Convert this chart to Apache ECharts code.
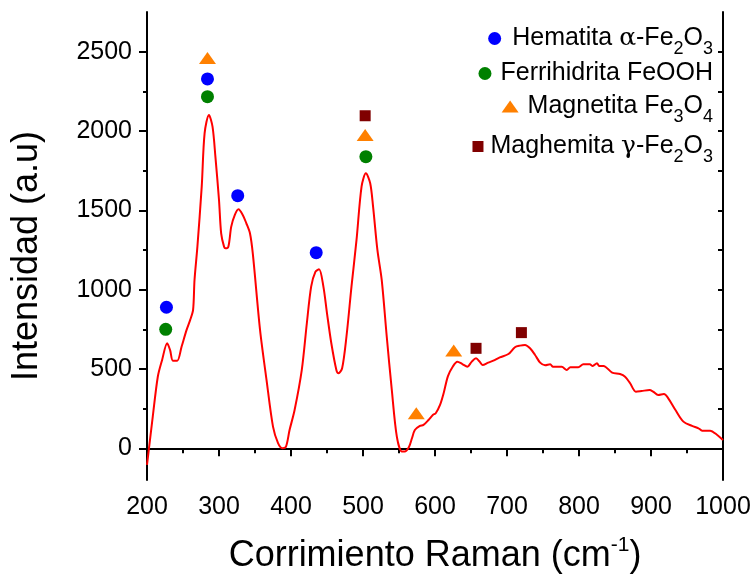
<!DOCTYPE html>
<html><head><meta charset="utf-8">
<script src="https://cdn.jsdelivr.net/npm/echarts@6/dist/echarts.min.js"></script>
<style>html,body{margin:0;padding:0;background:#fff}#c{width:753px;height:579px}</style>
</head><body><div id="c"></div>
<script>
// Raman spectrum
const ramanShift = [200,208,215,221,228,232,236,242,248,255,260,264,266,270,276,280,286,291,295,300,303,307,309,313,317,322,327,333,338,343,347,357,366,375,382,388,393,398,405,415,422,428,434,439,445,450,456,463,466,471,477,484,491,498,504,510,514,520,526,533,540,547,554,558,564,568,572,579,584,591,597,601,607,612,618,625,631,638,645,651,657,662,666,674,681,690,702,711,718,725,732,739,746,753,760,764,776,783,788,799,806,815,819,825,828,834,846,857,864,871,879,887,898,903,910,918,924,934,945,957,966,971,982,992,1000];
const intensity = [-105,199,451,557,662,620,552,552,640,746,809,872,1061,1271,1649,1985,2101,2027,1838,1565,1355,1271,1261,1271,1397,1471,1506,1471,1418,1355,1225,746,431,136,32,0,10,115,241,494,788,1019,1113,1128,1019,851,662,494,473,504,703,1019,1313,1649,1733,1670,1523,1250,1061,703,368,73,-21,-21,10,63,115,141,147,178,210,221,273,347,455,517,546,531,514,546,567,546,525,540,552,573,594,637,647,651,630,588,540,523,529,514,514,494,511,511,529,529,519,536,519,519,477,468,451,410,357,361,367,357,336,342,315,241,168,141,126,111,111,84,52];

// Peak markers
const hematitaX = [227, 284, 326, 435];
const hematitaY = [889, 2328, 1592, 1233];
const ferrihidritaX = [226, 284, 504];
const ferrihidritaY = [750, 2216, 1838];
const magnetitaX = [284, 503, 574, 626];
const magnetitaY = [2460, 1975, 221, 617];
const maghemitaX = [503, 657, 720];
const maghemitaY = [2096, 630, 729];

// Tick labels
const xTicks = [200, 300, 400, 500, 600, 700, 800, 900, 1000];
const yTicks = [0, 500, 1000, 1500, 2000, 2500];
const yFrameTicks = [0, 250, 500, 750, 1000, 1250, 1500, 1750, 2000, 2250, 2500];

const FONT = "'Liberation Sans', Arial, sans-serif";
const zip = (a, b) => a.map((v, i) => [v, b[i]]);

const legendText = {
  'Hematita': 'Hematita {g|α}-Fe{sub|2}O{sub|3}',
  'Ferrihidrita': 'Ferrihidrita FeOOH',
  'Magnetita': 'Magnetita Fe{sub|3}O{sub|4}',
  'Maghemita': 'Maghemita {g|γ}-Fe{sub|2}O{sub|3}'
};
const legendRich = {
  sub: {fontSize: 18, fontFamily: FONT, color: '#000', padding: [22, 0, 0, 0], verticalAlign: 'middle'},
  g: {fontSize: 25, fontFamily: "'DejaVu Serif', serif", color: '#000', verticalAlign: 'middle'}
};
function mkLegend(name, top, w, h, pad) {
  return {
    data: [name], right: 40, top: top, orient: 'horizontal',
    itemWidth: w, itemHeight: h, padding: 0,
    selectedMode: false,
    formatter: n => legendText[n],
    textStyle: {fontSize: 25, fontFamily: FONT, color: '#000', rich: legendRich, padding: [0, 0, 0, pad]}
  };
}

const black = {color: '#000', width: 2};
const plain = v => String(v);
const chart = echarts.init(document.getElementById('c'), null, {renderer: 'canvas'});
chart.setOption({
  animation: false,
  backgroundColor: '#fff',
  grid: {left: 147, right: 30, top: 12, bottom: 99, containLabel: false, outerBoundsMode: 'none'},
  legend: [
    mkLegend('Hematita', 26, 13, 13, 6),
    mkLegend('Ferrihidrita', 61, 13, 13, 4),
    mkLegend('Magnetita', 94, 17, 12, 4),
    mkLegend('Maghemita', 134, 11, 11, 2)
  ],
  xAxis: [{
    type: 'value', min: 200, max: 1000, interval: 100, position: 'bottom',
    axisLine: {lineStyle: black},
    axisTick: {length: 8, lineStyle: black},
    minorTick: {show: true, splitNumber: 2, length: 4, lineStyle: black},
    axisLabel: {fontSize: 25, fontFamily: FONT, color: '#000', margin: 15, customValues: xTicks, formatter: plain},
    splitLine: {show: false},
    name: 'Corrimiento Raman (cm{sup|-1})', nameLocation: 'middle', nameGap: 55,
    nameTextStyle: {fontSize: 36, fontFamily: FONT, color: '#000',
      rich: {sup: {fontSize: 21, fontFamily: FONT, color: '#000', padding: [0, 0, 22, 0], verticalAlign: 'middle'}}}
  }, {
    type: 'value', min: 200, max: 1000, interval: 50, position: 'top',
    axisLine: {lineStyle: black},
    axisTick: {inside: true, length: 5, lineStyle: black},
    axisLabel: {show: false}, splitLine: {show: false}
  }],
  yAxis: [{
    type: 'value', min: -200, max: 2750, position: 'left',
    axisLine: {lineStyle: black},
    axisTick: {length: 8, lineStyle: black, customValues: yTicks},
    minorTick: {show: true, splitNumber: 2, length: 4, lineStyle: black},
    axisLabel: {fontSize: 25, fontFamily: FONT, color: '#000', margin: 15, customValues: yTicks, formatter: plain},
    splitLine: {show: false},
    name: 'Intensidad (a.u)', nameLocation: 'middle', nameGap: 102,
    nameTextStyle: {fontSize: 36, fontFamily: FONT, color: '#000', padding: [0, 20, 0, 0]}
  }, {
    type: 'value', min: -200, max: 2750, position: 'right',
    axisLine: {lineStyle: black},
    axisTick: {inside: true, length: 5, lineStyle: black, customValues: yFrameTicks},
    axisLabel: {show: false}, splitLine: {show: false}
  }],
  series: [{
    name: 'Espectro', type: 'line', xAxisIndex: 0, yAxisIndex: 0,
    data: zip(ramanShift, intensity), showSymbol: false, smooth: 0.3,
    lineStyle: {color: '#ff0000', width: 2}, itemStyle: {color: '#ff0000'}, z: 2
  }, {
    name: 'Hematita', type: 'scatter', data: zip(hematitaX, hematitaY),
    symbol: 'circle', symbolSize: 13, itemStyle: {color: '#0000ff', opacity: 1}, z: 3
  }, {
    name: 'Ferrihidrita', type: 'scatter', data: zip(ferrihidritaX, ferrihidritaY),
    symbol: 'circle', symbolSize: 13, itemStyle: {color: '#008000', opacity: 1}, z: 3
  }, {
    name: 'Magnetita', type: 'scatter', data: zip(magnetitaX, magnetitaY),
    symbol: 'triangle', symbolSize: [17, 12], itemStyle: {color: '#ff8000', opacity: 1}, z: 3
  }, {
    name: 'Maghemita', type: 'scatter', data: zip(maghemitaX, maghemitaY),
    symbol: 'rect', symbolSize: 11, itemStyle: {color: '#800000', opacity: 1}, z: 3
  }]
});
</script>
</body></html>
